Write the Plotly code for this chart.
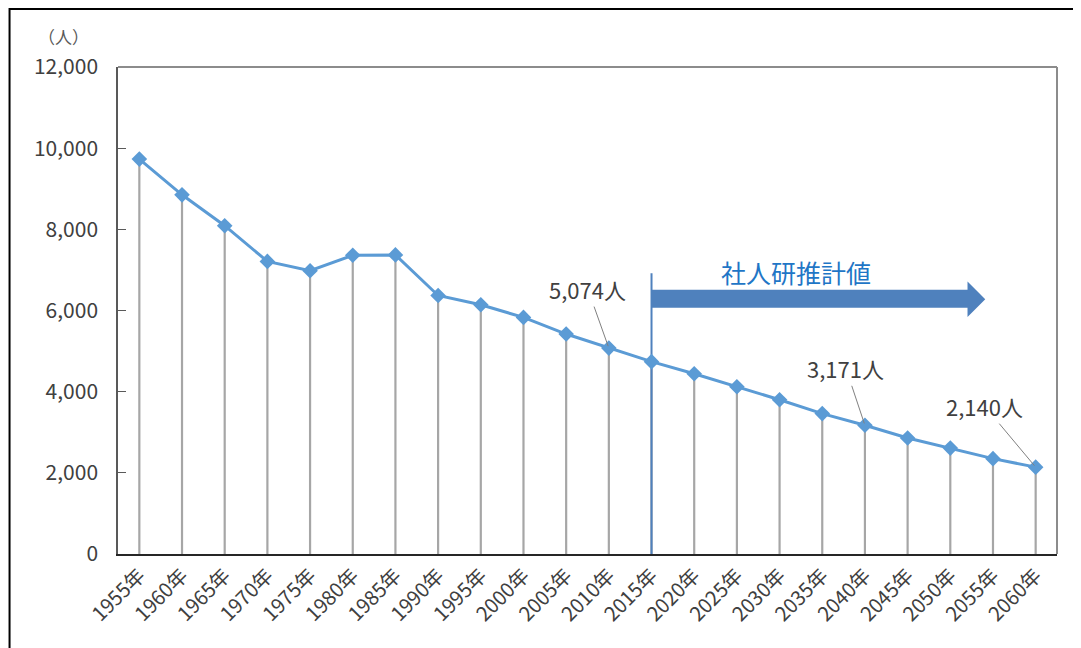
import plotly.graph_objects as go

years = ["1955年", "1960年", "1965年", "1970年", "1975年", "1980年", "1985年", "1990年",
         "1995年", "2000年", "2005年", "2010年", "2015年", "2020年", "2025年", "2030年",
         "2035年", "2040年", "2045年", "2050年", "2055年", "2060年"]
population = [9730, 8850, 8090, 7210, 6980, 7360, 7370, 6370, 6140, 5830, 5420, 5074,
              4740, 4440, 4120, 3800, 3460, 3171, 2860, 2610, 2350, 2140]
labelled_years = ["2010年", "2040年", "2060年"]
label_texts = ["5,074人", "3,171人", "2,140人"]
label_offsets = [(-21, -59), (-19, -57), (-51, -61)]
projection_start = "2015年"
projection_label = "社人研推計値"
unit_label = "（人）"

FONT = "Noto Sans CJK JP"
TXT = "#404040"

fig = go.Figure()

# drop lines from each point to zero
fig.add_trace(go.Scatter(
    x=years, y=population, mode="markers",
    marker=dict(size=1, color="rgba(0,0,0,0)"),
    error_y=dict(type="data", symmetric=False, array=[0] * len(population),
                 arrayminus=population, color="#A6A6A6", thickness=2.2, width=0),
    hoverinfo="skip", showlegend=False,
))

# projection start vertical line
fig.add_trace(go.Scatter(
    x=[projection_start, projection_start], y=[0, 6920], mode="lines",
    line=dict(color="#4F81BD", width=2), hoverinfo="skip", showlegend=False,
))

fig.add_trace(go.Scatter(
    x=years, y=population, mode="lines+markers",
    line=dict(color="#5B9BD5", width=3),
    marker=dict(symbol="diamond", size=12, color="#5B9BD5"),
    showlegend=False,
))

annotations = []
for yr, txt, (ax, ay) in zip(labelled_years, label_texts, label_offsets):
    val = population[years.index(yr)]
    annotations.append(dict(
        x=yr, y=val, xref="x", yref="y", text=txt, showarrow=True,
        arrowhead=0, arrowwidth=1, arrowcolor="#808080", ax=ax, ay=ay,
        standoff=2, font=dict(family=FONT, size=22, color=TXT),
    ))

annotations.append(dict(
    x=0.7223, y=6941, xref="paper", yref="y", text=projection_label,
    xanchor="center", yanchor="middle",
    showarrow=False, font=dict(family=FONT, size=25, color="#1F76C6"),
))
annotations.append(dict(
    x=-0.058, y=1.062, xref="paper", yref="paper", text=unit_label,
    xanchor="center", yanchor="middle",
    showarrow=False, font=dict(family=FONT, size=17, color="#595959"),
))

shapes = [
    # big arrow
    dict(type="path", xref="paper", yref="y",
         path="M 0.568 6510 L 0.9047 6510 L 0.9047 6714 L 0.9236 6276 "
              "L 0.9047 5837 L 0.9047 6066 L 0.568 6066 Z",
         fillcolor="#4F81BD", line=dict(width=0)),
    # plot frame top/right
    dict(type="line", xref="paper", yref="paper", x0=0, x1=1, y0=1, y1=1,
         line=dict(color="#8C8C8C", width=2)),
    dict(type="line", xref="paper", yref="paper", x0=1, x1=1, y0=0, y1=1,
         line=dict(color="#8C8C8C", width=2)),
    # outer border (top and left visible)
    dict(type="rect", xref="paper", yref="paper", x0=-0.1155, x1=1.5, y0=-0.5, y1=1.119,
         line=dict(color="#000000", width=2)),
]

# page body has an 8px margin, so the figure is sized/offset to compensate
fig.update_layout(
    width=1073, height=640,
    margin=dict(l=110, r=24, t=59, b=94),
    paper_bgcolor="white", plot_bgcolor="white",
    font=dict(family=FONT, color=TXT),
    annotations=annotations, shapes=shapes,
    showlegend=False,
)
fig.update_xaxes(
    type="category", range=[-0.5, len(years) - 0.5], automargin=False,
    showline=True, linecolor="#262626", linewidth=2,
    showgrid=False, ticks="", tickangle=-45,
    tickfont=dict(family=FONT, size=20, color=TXT),
)
fig.update_yaxes(
    range=[0, 12000], dtick=2000, tickformat=",", automargin=False,
    showline=True, linecolor="#595959", linewidth=1.5,
    showgrid=False, zeroline=False, ticks="inside", ticklen=8, tickcolor="#595959",
    ticklabelstandoff=14,
    tickfont=dict(family=FONT, size=21, color=TXT),
)

fig.write_html("out.html")
